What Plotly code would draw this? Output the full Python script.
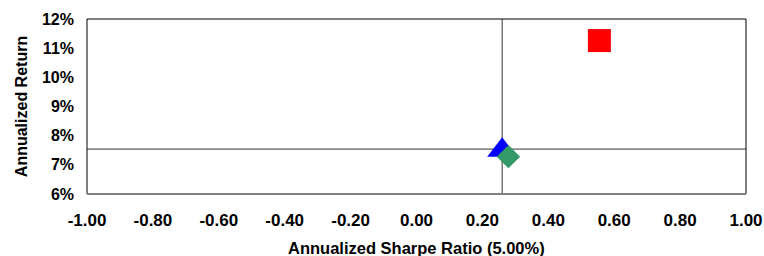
import plotly.graph_objects as go

# Data
names = ["Portfolio A", "Benchmark", "Portfolio B"]
sharpe = [0.555, 0.26, 0.279]
ret = [11.26, 7.50, 7.28]
symbols = ["square", "triangle-up", "diamond"]
colors = ["#FF0000", "#0000FF", "#339966"]
sizes = [23, 26, 18]
x_ticks = [-1.0, -0.8, -0.6, -0.4, -0.2, 0.0, 0.2, 0.4, 0.6, 0.8, 1.0]
y_ticks = [6, 7, 8, 9, 10, 11, 12]
cross_x = 0.26
cross_y = 7.54
x_title = "Annualized Sharpe Ratio (5.00%)"
y_title = "Annualized Return"

fig = go.Figure()
for n, x, y, s, c, z in zip(names, sharpe, ret, symbols, colors, sizes):
    fig.add_trace(go.Scatter(x=[x], y=[y], mode="markers", name=n,
                             marker=dict(symbol=s, color=c, size=z, line=dict(width=0))))

# crosshair lines
fig.add_shape(type="line", xref="x", yref="paper", x0=cross_x, x1=cross_x, y0=0, y1=1,
              line=dict(color="#333333", width=1), layer="below")
fig.add_shape(type="line", xref="paper", yref="y", x0=0, x1=1, y0=cross_y, y1=cross_y,
              line=dict(color="#333333", width=1), layer="below")
# plot frame
fig.add_shape(type="rect", xref="paper", yref="paper", x0=0, x1=1, y0=0, y1=1,
              line=dict(color="black", width=1), layer="below")
fig.add_shape(type="line", xref="paper", yref="paper", x0=0, x1=1, y0=0, y1=0,
              line=dict(color="#808080", width=2), layer="above")

# x axis title
fig.add_annotation(text=f"<b>{x_title}</b>", xref="paper", yref="paper",
                   x=0.5, y=-0.309, xanchor="center", yanchor="middle",
                   showarrow=False, font=dict(size=16.5))

ff = "Liberation Sans, Arial, sans-serif"
fig.update_layout(
    width=764, height=256,
    margin=dict(l=87, r=18, t=19, b=62),
    paper_bgcolor="white", plot_bgcolor="white",
    showlegend=False,
    font=dict(family=ff, size=16, color="black"),
    xaxis=dict(range=[-1, 1], tickvals=x_ticks,
               ticktext=[f"<b>{v:.2f}</b>" for v in x_ticks],
               tickfont=dict(size=17),
               showgrid=False, zeroline=False, showline=False,
               ticks="", ticklen=0, automargin=False, ticklabelstandoff=14),
    yaxis=dict(range=[6, 12], tickvals=y_ticks,
               ticktext=[f"<b>{v}%</b>" for v in y_ticks],
               tickfont=dict(size=16),
               showgrid=False, zeroline=False, showline=False,
               ticks="", ticklen=0, automargin=False, ticklabelstandoff=12,
               title=dict(text=f"<b>{y_title}</b>", font=dict(size=16), standoff=10)),
)
fig.write_html("out.html", config={"displayModeBar": False},
               post_script="document.body.style.margin='0';document.body.style.overflow='hidden';")
